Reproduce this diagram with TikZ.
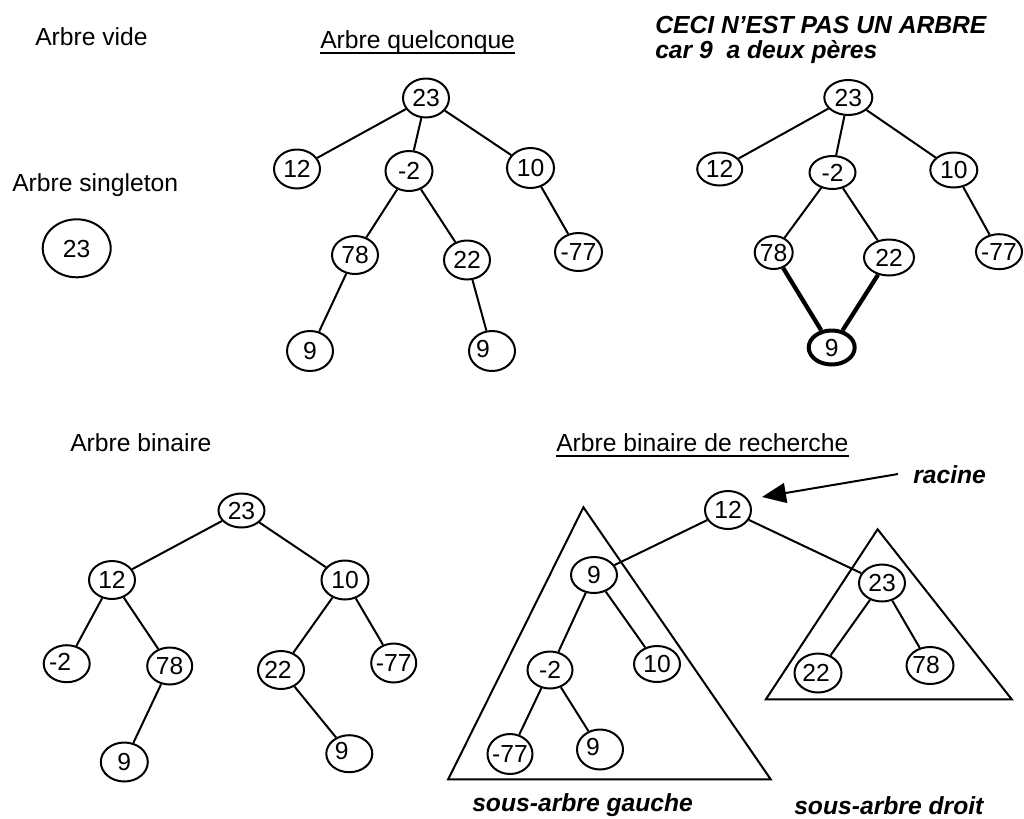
\documentclass[tikz,border=0pt]{standalone}
\usepackage{fontspec}
\setmainfont{Liberation Sans}
\usetikzlibrary{shapes.geometric,arrows.meta}
% one pixel of the drawing grid
\newlength\pxl \setlength\pxl{0.75pt}
\newcommand\nodefont{\fontsize{18.5pt}{22pt}\selectfont}
\newcommand\lblfont{\fontsize{18.5pt}{22pt}\selectfont}
\newcommand\bilblfont{\fontsize{18.5pt}{22pt}\selectfont\bfseries\itshape}
% key text pushed left by #1/2 px and raised by #2 px inside its ellipse
\newcommand\sh[3]{\raisebox{#2\pxl}{#3}\kern#1\pxl\relax}
\tikzset{
  nd/.style={draw, ellipse, fill=white, line width=1.5pt, inner xsep=-2pt, inner ysep=0pt,
             minimum width=46\pxl, minimum height=38\pxl,
             text height=13.2pt, text depth=0pt, font=\nodefont},
  sz/.style 2 args={minimum width=#1\pxl, minimum height=#2\pxl},
  heavynd/.style={nd, line width=3pt},
  link/.style={line width=1.5pt},
  heavylink/.style={line width=3.2pt},
  lbl/.style={inner sep=0pt, anchor=base west, font=\lblfont},
  bilbl/.style={inner sep=0pt, anchor=base west, font=\bilblfont},
  uline/.style={line width=1.2pt},
  subtree/.style={line width=1.5pt, line join=miter},
}
\begin{document}
\begin{tikzpicture}[x=0.75pt, y=-0.75pt]
\useasboundingbox (0,0) rectangle (1024,818);

% ---------- titles ----------
\node[lbl] (tvide) at (35,45) {Arbre vide};
\node[lbl] (tsingle) at (12,191) {Arbre singleton};
\node[lbl] (tquel) at (320,48) {Arbre quelconque};
\draw[uline] ([yshift=-5\pxl]tquel.base west) -- ([yshift=-5\pxl]tquel.base east);
\node[bilbl] (tceci) at (655,33) {CECI N\char39 EST PAS UN ARBRE};
\node[bilbl] (tcar) at (655,58) {car 9\ \ a deux pères};
\node[lbl] (tbin) at (70,451) {Arbre binaire};
\node[lbl] (tabr) at (556,451) {Arbre binaire de recherche};
\draw[uline] ([yshift=-5\pxl]tabr.base west) -- ([yshift=-5\pxl]tabr.base east);
\node[bilbl] (racine) at (913,483) {racine};
\node[bilbl] (tsag) at (472,811) {sous-arbre gauche};
\node[bilbl] (tsad) at (794,814) {sous-arbre droit};

% ---------- singleton ----------
\node[nd, sz={68}{58}] (s23) at (76.7,248.3) {23};

% ---------- general tree ----------
\node[nd, sz={46}{39}] (q23) at (426,98) {23};
\node[nd, sz={46}{39}] (q12) at (297,169) {12};
\node[nd, sz={47}{40}] (qm2) at (409,171) {-2};
\node[nd, sz={47}{40}] (q10) at (530.5,168) {10};
\node[nd, sz={46}{38}] (q78) at (355,255) {78};
\node[nd, sz={46}{39}] (q22) at (467,260) {22};
\node[nd, sz={47}{38}] (qm77) at (578.5,252) {-77};
\node[nd, sz={46}{40}] (q9a) at (310,351) {9};
\node[nd, sz={46}{40}] (q9b) at (492,351) {\sh{18}{2.5}{9}};
\draw[link] (q23) -- (q12);
\draw[link] (q23) -- (qm2);
\draw[link] (q23) -- (q10);
\draw[link] (qm2) -- (q78);
\draw[link] (qm2) -- (q22);
\draw[link] (q10) -- (qm77);
\draw[link] (q78) -- (q9a);
\draw[link] (q22) -- (q9b);

% ---------- not a tree: 9 has two parents ----------
\node[nd, sz={48}{35}] (n23) at (848.3,97.5) {23};
\node[nd, sz={45}{33}] (n12) at (719.7,169) {12};
\node[nd, sz={46}{33}] (nm2) at (832.5,172.5) {-2};
\node[nd, sz={47}{35}] (n10) at (953.8,170) {10};
\node[nd, sz={38}{33}] (n78) at (773.7,252.5) {78};
\node[nd, sz={50}{36}] (n22) at (889,257.5) {22};
\node[nd, sz={46}{35}] (nm77) at (999,251.7) {-77};
\node[heavynd, sz={46}{34}] (n9) at (831.7,347.5) {9};
\draw[link] (n23) -- (n12);
\draw[link] (n23) -- (nm2);
\draw[link] (n23) -- (n10);
\draw[link] (nm2) -- (n78);
\draw[link] (nm2) -- (n22);
\draw[link] (n10) -- (nm77);
\draw[heavylink] (n78) -- (n9);
\draw[heavylink] (n22) -- (n9);

% ---------- binary tree ----------
\node[nd, sz={46}{34}] (b23) at (241.5,510.5) {23};
\node[nd, sz={46}{38}] (b12) at (112,580) {12};
\node[nd, sz={47}{39}] (b10) at (345,580) {10};
\node[nd, sz={46}{37}] (bm2) at (66.7,663.7) {\sh{13}{2}{-2}};
\node[nd, sz={45}{37}] (b78) at (169.7,666) {78};
\node[nd, sz={46}{38}] (b22) at (281,670) {\sh{6}{0}{22}};
\node[nd, sz={45}{39}] (bm77) at (393.7,663) {-77};
\node[nd, sz={47}{39}] (b9a) at (124.3,762) {9};
\node[nd, sz={46}{37}] (b9b) at (349.3,753.7) {\sh{15}{3.5}{9}};
\draw[link] (b23) -- (b12);
\draw[link] (b23) -- (b10);
\draw[link] (b12) -- (bm2);
\draw[link] (b12) -- (b78);
\draw[link] (b78) -- (b9a);
\draw[link] (b10) -- (b22);
\draw[link] (b10) -- (bm77);
\draw[link] (b22) -- (b9b);

% ---------- binary search tree ----------
% subtree outlines
\draw[subtree] (583.4,507.3) -- (448.2,779.3) -- (770.7,779.3) -- cycle;
\draw[subtree] (877.6,529.3) -- (765.9,699.3) -- (1011.7,699.3) -- cycle;

\node[nd, sz={46}{38}] (r12) at (728,510) {12};
\node[nd, sz={46}{36}] (r9) at (594,575) {9};
\node[nd, sz={46}{37}] (r23) at (882,583) {23};
\node[nd, sz={45}{37}] (rm2) at (550,670) {-2};
\node[nd, sz={46}{36}] (r10) at (657,664) {10};
\node[nd, sz={47}{39}] (r22) at (818,673) {\sh{4}{0}{22}};
\node[nd, sz={47}{37}] (r78) at (930,665.5) {\sh{8}{1}{78}};
\node[nd, sz={45}{40}] (rm77) at (510,754) {-77};
\node[nd, sz={46}{40}] (r9b) at (600,749.5) {\sh{14}{3}{9}};
\draw[link] (r12) -- (r9);
\draw[link] (r12) -- (r23);
\draw[link] (r9) -- (rm2);
\draw[link] (r9) -- (r10);
\draw[link] (rm2) -- (rm77);
\draw[link] (rm2) -- (r9b);
\draw[link] (r23) -- (r22);
\draw[link] (r23) -- (r78);

% pointer to the root
\coordinate (rtail) at (898,474);
\coordinate (rtip) at (762,497);
\draw[link, -{Triangle[length=18pt, width=15pt]}] (rtail) -- (rtip);
\end{tikzpicture}
\end{document}
